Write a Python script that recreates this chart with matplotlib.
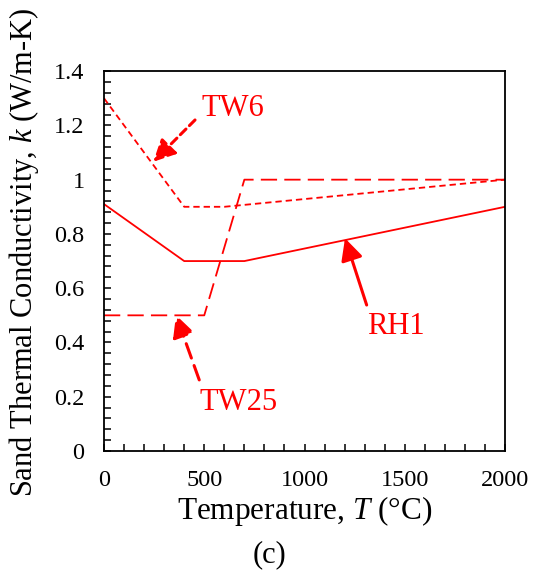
import matplotlib.pyplot as plt
from matplotlib.ticker import MultipleLocator, FuncFormatter

plt.rcParams['font.family'] = ['Liberation Serif', 'DejaVu Serif']
plt.rcParams['mathtext.fontset'] = 'custom'
plt.rcParams['mathtext.rm'] = 'Liberation Serif'
plt.rcParams['mathtext.it'] = 'Liberation Serif:italic'

# data
rh1_T = [0, 400, 700, 2000]
rh1_k = [0.91, 0.70, 0.70, 0.90]
tw6_T = [0, 400, 600, 2000]
tw6_k = [1.30, 0.90, 0.90, 1.00]
tw25_T = [0, 500, 700, 2000]
tw25_k = [0.50, 0.50, 1.00, 1.00]

red = '#ff0000'

fig = plt.figure(figsize=(5.4, 5.83), dpi=100)
ax = fig.add_axes([0.1926, 0.2264, 0.7426, 0.6516])

ax.plot(rh1_T, rh1_k, color=red, lw=1.3)
ax.plot(tw6_T, tw6_k, color=red, lw=1.3, linestyle=(0, (3.5, 2.2)))
ax.plot(tw25_T, tw25_k, color=red, lw=1.3, linestyle=(0, (9, 4)))

ax.set_xlim(0, 2000)
ax.set_ylim(0, 1.4)
ax.xaxis.set_major_locator(MultipleLocator(500))
ax.xaxis.set_minor_locator(MultipleLocator(100))
ax.yaxis.set_major_locator(MultipleLocator(0.2))
ax.yaxis.set_minor_locator(MultipleLocator(0.04))
ax.yaxis.set_major_formatter(FuncFormatter(lambda v, p: '%g' % round(v, 2)))
ax.tick_params(which='both', direction='in', length=5, width=1.1,
               top=False, right=False, labelsize=17.5)
ax.tick_params(axis='x', pad=14)
ax.tick_params(axis='y', pad=14)
for s in ax.spines.values():
    s.set_linewidth(1.3)

ax.set_xlabel('Temperature, $T$ (°C)', fontsize=22.5, labelpad=2)
ax.set_ylabel('Sand Thermal Conductivity, $k$ (W/m-K)', fontsize=22)
ax.yaxis.set_label_coords(-0.158, 0.524)

# annotations: arrows and labels
head = '-|>,head_length=0.6,head_width=0.3'
ax.annotate('', xy=(246, 1.066), xytext=(454, 1.22),
            arrowprops=dict(arrowstyle=head, color=red, lw=2.2, mutation_scale=22,
                            linestyle=(0, (2.6, 1.6)), shrinkA=0, shrinkB=0))
ax.annotate('', xy=(359, 0.501), xytext=(475, 0.262),
            arrowprops=dict(arrowstyle=head, color=red, lw=2.2, mutation_scale=22,
                            linestyle=(0, (5, 2.6)), shrinkA=0, shrinkB=0))
ax.annotate('', xy=(1202, 0.784), xytext=(1310, 0.538),
            arrowprops=dict(arrowstyle=head, color=red, lw=2.2, mutation_scale=22,
                            shrinkA=0, shrinkB=0))
ax.text(484, 1.209, 'TW6', fontsize=22, color=red, ha='left', va='bottom')
ax.text(475, 0.233, 'TW25', fontsize=22, color=red, ha='left', va='top')
ax.text(1310, 0.512, 'RH1', fontsize=22, color=red, ha='left', va='top')

fig.text(0.5, 0.048, '(c)', fontsize=22, ha='center', va='center')

fig.savefig('out.png', dpi=100)
